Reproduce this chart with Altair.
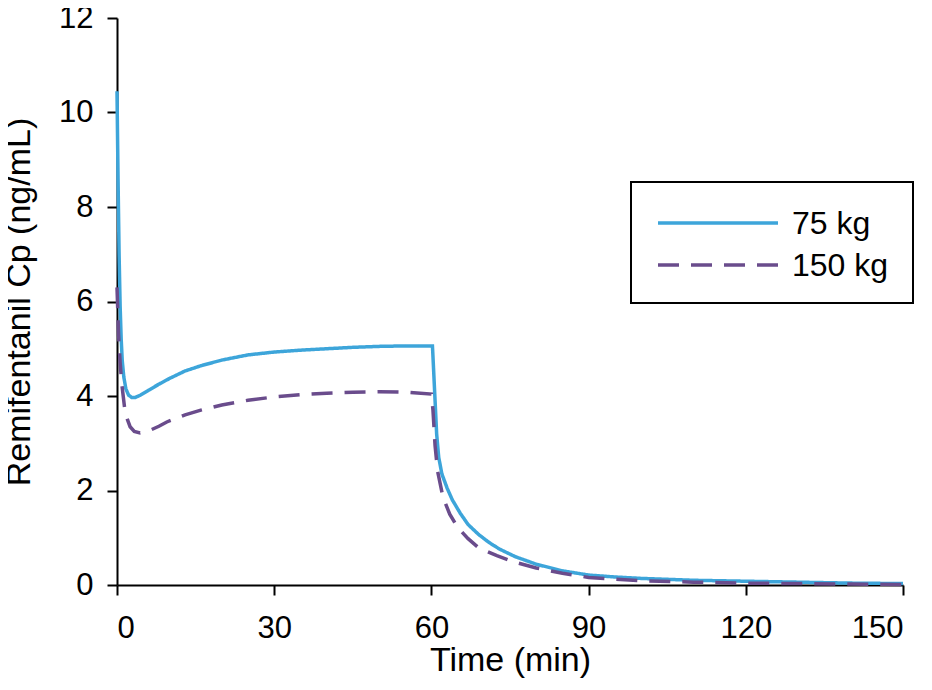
import altair as alt
import pandas as pd

# ---- data ----
t_75 = [0, 0.2, 0.4, 0.6, 0.8, 1.0, 1.3, 1.7, 2.2, 2.8, 3.5, 4.5, 6, 8, 10, 13, 16, 20, 25, 30,
        35, 40, 45, 50, 55, 60.2, 60.4, 60.7, 61.0, 61.4, 62, 63, 64, 65.5, 67, 69, 71, 73, 76,
        80, 85, 90, 95, 100, 110, 120, 130, 140, 150]
c_75 = [10.45, 8.6, 7.0, 5.9, 5.2, 4.75, 4.4, 4.15, 4.02, 3.97, 3.97, 4.02, 4.12, 4.25, 4.37,
        4.53, 4.64, 4.76, 4.87, 4.93, 4.97, 5.0, 5.03, 5.05, 5.06, 5.06, 4.6, 3.9, 3.2, 2.7,
        2.35, 2.05, 1.8, 1.52, 1.28, 1.07, 0.9, 0.76, 0.6, 0.44, 0.3, 0.21, 0.17, 0.14, 0.1,
        0.08, 0.06, 0.04, 0.03]

t_150 = [0, 0.3, 0.6, 0.9, 1.5, 2.0, 2.5, 3.3, 4.4, 6, 8, 9.5, 13, 16, 20, 25, 30, 35, 40, 45,
         50, 55, 60, 60.3, 60.7, 61.2, 62.2, 63.5, 65, 67, 69, 72.5, 76, 80, 85, 90, 100, 110,
         120, 130, 140, 150]
c_150 = [6.3, 5.3, 4.7, 4.27, 3.7, 3.5, 3.35, 3.25, 3.22, 3.26, 3.36, 3.45, 3.6, 3.70, 3.81,
         3.91, 3.98, 4.03, 4.06, 4.08, 4.09, 4.08, 4.04, 3.7, 2.95, 2.4, 1.86, 1.5, 1.22, 0.98,
         0.79, 0.62, 0.48, 0.36, 0.25, 0.16, 0.09, 0.06, 0.04, 0.03, 0.02, 0.01]

series_names = ["75 kg", "150 kg"]
x_ticks = [0, 30, 60, 90, 120, 150]
y_ticks = [0, 2, 4, 6, 8, 10, 12]

COLORS = ["#3DA5DA", "#6A4C8C"]
DASHES = [[1, 0], [21, 12]]
FONT = "Liberation Sans"

df = pd.concat([
    pd.DataFrame({"t": t_75, "c": c_75, "series": series_names[0]}),
    pd.DataFrame({"t": t_150, "c": c_150, "series": series_names[1]}),
], ignore_index=True)

lines = alt.Chart(df).mark_line(strokeWidth=3.5, interpolate="linear").encode(
    x=alt.X("t:Q", scale=alt.Scale(domain=[0, 150], nice=False, zero=False),
            axis=alt.Axis(values=x_ticks, title="Time (min)")),
    y=alt.Y("c:Q", scale=alt.Scale(domain=[0, 12], nice=False),
            axis=alt.Axis(values=y_ticks, title="Remifentanil Cp (ng/mL)")),
    color=alt.Color("series:N", scale=alt.Scale(domain=series_names, range=COLORS), legend=None),
    strokeDash=alt.StrokeDash("series:N", scale=alt.Scale(domain=series_names, range=DASHES),
                              legend=None),
)

# ---- hand-drawn legend box (positions in pixels of the plot area) ----
legend_df = pd.DataFrame({"series": series_names})
box = alt.Chart(legend_df.head(1)).mark_rect(
    fill="white", stroke="black", strokeWidth=2
).encode(x=alt.value(514), x2=alt.value(796), y=alt.value(164), y2=alt.value(285))

legend_layers = [box]
for i, name in enumerate(series_names):
    row = legend_df[legend_df["series"] == name]
    ypix = 205 + 42 * i
    legend_layers.append(
        alt.Chart(row).mark_rule(strokeWidth=3.5, strokeDash=DASHES[i], color=COLORS[i]).encode(
            x=alt.value(541), x2=alt.value(661), y=alt.value(ypix))
    )
    legend_layers.append(
        alt.Chart(row).mark_text(align="left", baseline="middle", font=FONT, fontSize=32,
                                 color="black", dy=1).encode(
            x=alt.value(675), y=alt.value(ypix), text="series:N")
    )

chart = alt.layer(lines, *legend_layers).properties(
    width=786, height=567,
    autosize=alt.AutoSizeParams(type="none"),
    padding={"left": 109, "top": 10, "right": 21, "bottom": 96},
).configure_view(stroke=None).configure_axis(
    domainColor="black", domainWidth=2, tickColor="black", tickWidth=2, tickSize=10,
    grid=False, labelFont=FONT, labelFontSize=31, labelColor="black",
    titleFont=FONT, titleFontSize=34, titleFontWeight="normal", titleColor="black",
).configure_axisX(labelPadding=18, titlePadding=0).configure_axisY(
    labelPadding=14, titlePadding=22
)

chart.save("out.html", embed_options={"renderer": "svg", "actions": False})
